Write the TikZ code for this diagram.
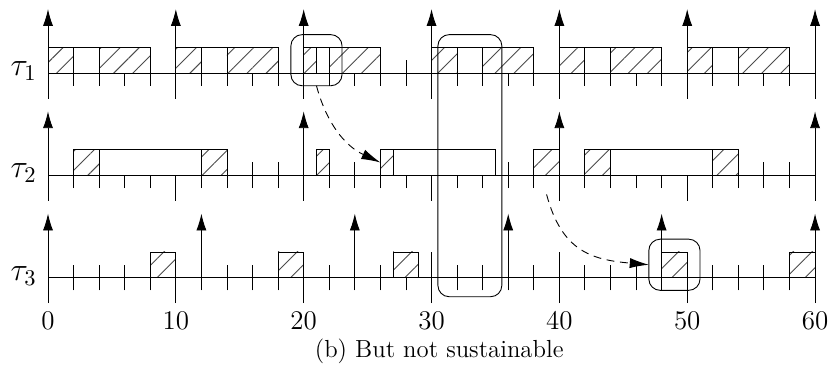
\documentclass[tikz,border=0pt]{standalone}
\usetikzlibrary{arrows.meta,patterns.meta}

\definecolor{hatch}{gray}{0.3}

\tikzset{
  job/.style={draw, fill=white},
  run/.style={draw, preaction={fill=white}, pattern={Lines[angle=45,distance=6pt,line width=0.4pt]}, pattern color=hatch},
  release/.style={-{Latex[length=7.5pt,width=4.5pt]}},
  moved/.style={dash pattern=on 3.5pt off 2.5pt, -{Latex[length=8.5pt,width=4.5pt]}},
  focus/.style={rounded corners=5pt},
}

\begin{document}
\begin{tikzpicture}[scale=0.2]
            \useasboundingbox (-3.755,-7.82) rectangle (61.17,21.71);

            % time lines with ticks
            \foreach \y in {0,8,16} {
                \draw (0,\y) -- (60,\y);
                \foreach \x in {0,2,...,60} \draw (\x,\y-1) -- (\x,\y+1);
                \foreach \x in {0,10,...,60} \draw (\x,\y-2) -- (\x,\y+2);
            }

            % tau_1
            \draw[job] (0,16) rectangle (8,18);
            \draw[run] (0,16) rectangle (2,18);
            \draw[run] (4,16) rectangle (8,18);
            \draw[job] (10,16) rectangle (18,18);
            \draw[run] (10,16) rectangle (12,18);
            \draw[run] (14,16) rectangle (18,18);
            \draw[job] (20,16) rectangle (26,18);
            \draw[run] (20,16) rectangle (21,18);
            \draw[run] (22,16) rectangle (26,18);
            \draw[job] (30,16) rectangle (38,18);
            \draw[run] (30,16) rectangle (32,18);
            \draw[run] (34,16) rectangle (38,18);
            \draw[job] (40,16) rectangle (48,18);
            \draw[run] (40,16) rectangle (42,18);
            \draw[run] (44,16) rectangle (48,18);
            \draw[job] (50,16) rectangle (58,18);
            \draw[run] (50,16) rectangle (52,18);
            \draw[run] (54,16) rectangle (58,18);

            % tau_2
            \draw[job] (2,8) rectangle (14,10);
            \draw[run] (2,8) rectangle (4,10);
            \draw[run] (12,8) rectangle (14,10);
            \draw[run] (21,8) rectangle (22,10);
            \draw[job] (26,8) rectangle (35,10);
            \draw[run] (26,8) rectangle (27,10);
            \draw[run] (38,8) rectangle (40,10);
            \draw[job] (42,8) rectangle (54,10);
            \draw[run] (42,8) rectangle (44,10);
            \draw[run] (52,8) rectangle (54,10);

            % tau_3
            \draw[run] (8,0) rectangle (10,2);
            \draw[run] (18,0) rectangle (20,2);
            \draw[run] (27,0) rectangle (29,2);
            \draw[run] (48,0) rectangle (50,2);
            \draw[run] (58,0) rectangle (60,2);

            % releases
            \foreach \x in {0,10,...,60} \draw[release] (\x,16) -- (\x,21);
            \foreach \x in {0,20,40,60} \draw[release] (\x,8) -- (\x,13);
            \foreach \x in {0,12,...,60} \draw[release] (\x,0) -- (\x,5);

            % highlighted parts
            \draw[focus] (19,15) rectangle (23,19);
            \draw[focus] (30.5,-1.5) rectangle (35.5,19);
            \draw[focus] (47,-1) rectangle (51,3);

            \coordinate (from1) at (21,15);
            \coordinate (to1) at (26,9);
            \coordinate (from2) at (39,6.5);
            \coordinate (to2) at (47,1);
            \draw[moved] (from1) to[out=-75, in=155] (to1);
            \draw[moved] (from2) to[out=-75, in=175, looseness=1.2] (to2);

            \node (tau1) at (-1.9,16.15) {\Large $\tau_1$};
            \node (tau2) at (-1.9,8.15) {\Large $\tau_2$};
            \node (tau3) at (-1.9,0.15) {\Large $\tau_3$};

            \foreach \x in {0,10,...,60} \node (num\x) at (\x,-3.37) {\large \x};

            \node (caption) at (30.6,-5.8) {\fontsize{11}{13}\selectfont (b) But not sustainable};
        \end{tikzpicture}
\end{document}
